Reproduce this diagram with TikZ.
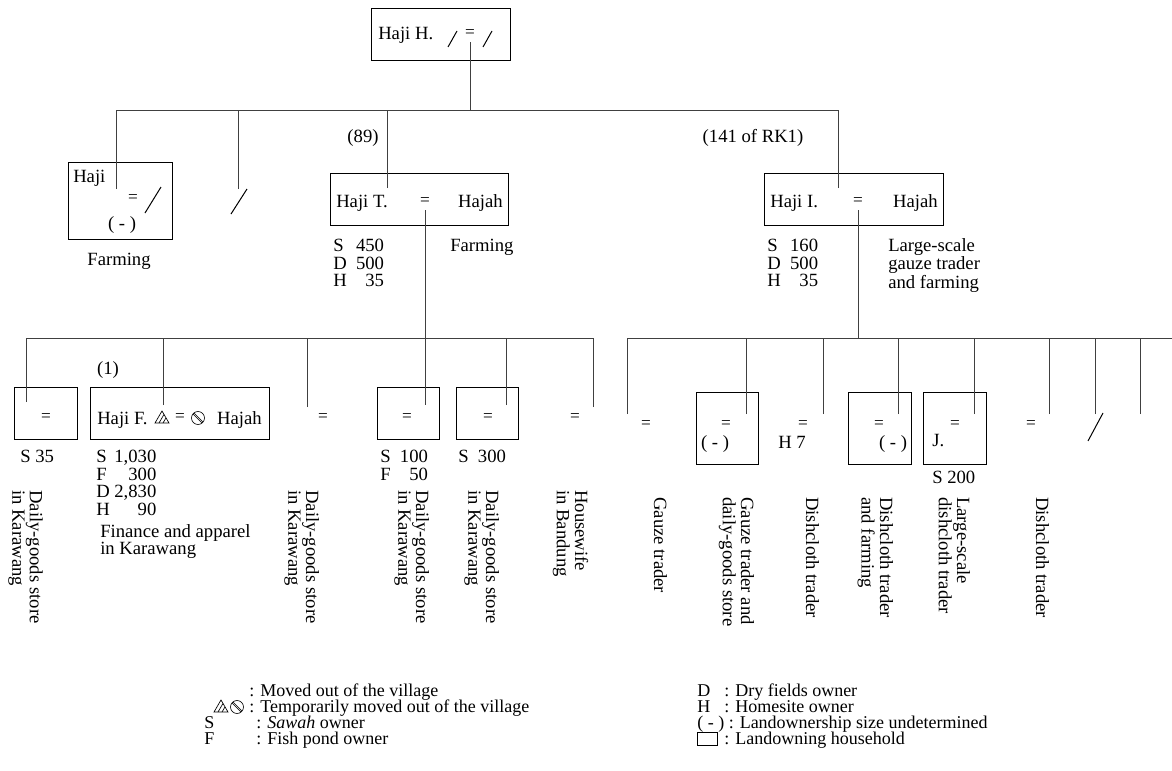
\documentclass[tikz,border=0pt]{standalone}
\usepackage{fontspec}
\setmainfont{Liberation Serif}
\usetikzlibrary{positioning}

\begin{document}
\begin{tikzpicture}[
  x=0.75pt, y=-0.75pt,
  font=\fontsize{14}{13.2}\selectfont,
  hbox/.style 2 args={draw, line width=0.75pt, inner sep=0pt,
              minimum width=#1*0.75pt, minimum height=#2*0.75pt},
  txt/.style={inner sep=0pt},
  lgd/.style={inner sep=0pt, anchor=base west},
  eq/.style={inner sep=0pt, font=\fontsize{13}{13}\selectfont},
  vtxt/.style={inner sep=0pt, rotate=-90, anchor=base west},
  lnk/.style={draw=black!75, line width=0.75pt},
  cut/.style={line width=0.75pt},
  movtri/.pic={\draw[line width=0.5pt] (-7,5) -- (7,5) -- (0,-7) -- cycle;
               \draw[line width=0.5pt] (-3,5) -- (2,-3.6) (1,5) -- (4,-0.1);},
  movcirc/.pic={\draw[line width=0.5pt] (0,0) circle (6.5);
                \draw[line width=0.5pt] (-4.9,-3.9) -- (3.9,4.9) (-3.9,-4.9) -- (4.9,3.9);}
]
\useasboundingbox (0,0) rectangle (1172,771);

\node[hbox={139}{52}] (hh) at (440.5,34) {};
\node[txt, anchor=base west] (hh-n) at (378,39) {Haji H.};
\node[eq] (hh-m) at (470,34) {=};
\draw[cut] (448,47) -- (457,31);
\draw[cut] (483,47) -- (492,31);

\coordinate (b1l) at (116,110);
\coordinate (b1r) at (838,110);
\draw[lnk] (b1l) -- (b1r);
\draw[lnk, shorten <=3pt] (hh-m.south) -- (hh-m.south |- b1l);

\node[hbox={104}{77}] (hj) at (120,200.5) {};
\node[txt, anchor=base west] (hj-n) at (73,182) {Haji};
\node[eq] (hj-m) at (133,199) {=};
\draw[cut] (145,213) -- (161,187);
\node[txt, anchor=base] (hj-u) at (122,229) {( - )};
\node[txt, anchor=base] (hj-j) at (119,265) {Farming};
\coordinate (hj-in) at (116,189);
\draw[lnk] (hj-in) -- (hj-in |- b1l);

\coordinate (x2-in) at (238,189);
\draw[lnk] (x2-in) -- (x2-in |- b1l);
\draw[cut] (231,214) -- (247,189);

\node[txt, anchor=base] (ht-r) at (363,142) {(89)};
\node[hbox={178}{52}] (ht) at (419,199) {};
\node[txt, anchor=base west] (ht-n) at (336,207) {Haji T.};
\node[eq] (ht-m) at (425,202) {=};
\node[txt, anchor=base east] (ht-w) at (503,207) {Hajah};
\node[txt, anchor=base west] (ht-d) at (333,251.5)
  {\begin{tabular}[t]{@{}l@{\ \ }r@{}}S&450\\D&500\\H&35\end{tabular}};
\node[txt, anchor=base west] (ht-j) at (450,251.5) {Farming};
\coordinate (ht-in) at (387,188);
\draw[lnk] (ht-in) -- (ht-in |- b1l);

\node[txt, anchor=base] (hi-r) at (753,142) {(141 of RK1)};
\node[hbox={179}{52}] (hi) at (853.5,199) {};
\node[txt, anchor=base west] (hi-n) at (770,207) {Haji I.};
\node[eq] (hi-m) at (858,202) {=};
\node[txt, anchor=base east] (hi-w) at (938,207) {Hajah};
\node[txt, anchor=base west] (hi-d) at (767,251.5)
  {\begin{tabular}[t]{@{}l@{\ \ }r@{}}S&160\\D&500\\H&35\end{tabular}};
\node[txt, anchor=base west] (hi-j) at (888,251.5)
  {\begin{tabular}[t]{@{}l@{}}Large-scale\\gauze trader\\and farming\end{tabular}};
\coordinate (hi-in) at (838,188);
\draw[lnk] (hi-in) -- (hi-in |- b1l);

\coordinate (b2l) at (26,338);
\coordinate (b2m) at (593,338);
\draw[lnk] (b2l) -- (b2m);

\node[hbox={63}{52}] (c1) at (45.5,413) {};
\node[eq] (c1-m) at (46,418) {=};
\node[txt, anchor=base west] (c1-d) at (20,462.5) {S 35};
\node[vtxt] (c1-j) at (30,490)
  {\begin{tabular}[t]{@{}l@{}}Daily-goods store\\in Karawang\end{tabular}};
\coordinate (c1-in) at (26,402);
\draw[lnk] (c1-in) -- (c1-in |- b2l);

\node[txt, anchor=base] (c2-r) at (108,374) {(1)};
\node[hbox={179}{52}] (c2) at (179.5,413) {};
\node[txt, anchor=base west] (c2-n) at (97,424.5) {Haji F.};
\pic at (162,418) {movtri};
\node[eq] (c2-m) at (180,418) {=};
\pic at (198,418) {movcirc};
\node[txt, anchor=base east] (c2-w) at (262,424.5) {Hajah};
\node[txt, anchor=base west] (c2-d) at (96,462.5)
  {\begin{tabular}[t]{@{}l@{\ }r@{}}S&1,030\\F&300\\D&2,830\\H&90\end{tabular}};
\node[txt, anchor=base west] (c2-j) at (100,537)
  {\begin{tabular}[t]{@{}l@{}}Finance and apparel\\in Karawang\end{tabular}};
\coordinate (c2-in) at (163,405);
\draw[lnk] (c2-in) -- (c2-in |- b2l);

\node[eq] (c3-m) at (323,418) {=};
\node[vtxt] (c3-j) at (306,490)
  {\begin{tabular}[t]{@{}l@{}}Daily-goods store\\in Karawang\end{tabular}};
\coordinate (c3-in) at (307,407);
\draw[lnk] (c3-in) -- (c3-in |- b2l);

\node[hbox={62}{52}] (c4) at (408,413) {};
\node[eq] (c4-m) at (407,418) {=};
\node[txt, anchor=base west] (c4-d) at (380,462.5)
  {\begin{tabular}[t]{@{}l@{\ \ }r@{}}S&100\\F&50\end{tabular}};
\node[vtxt] (c4-j) at (416,490)
  {\begin{tabular}[t]{@{}l@{}}Daily-goods store\\in Karawang\end{tabular}};
\coordinate (c4-in) at (425,405);
\draw[lnk, shorten <=3pt] (ht-m.south) -- (c4-in);

\node[hbox={62}{52}] (c5) at (487,413) {};
\node[eq] (c5-m) at (488,418) {=};
\node[txt, anchor=base west] (c5-d) at (458,462.5) {S\ \ 300};
\node[vtxt] (c5-j) at (486,490)
  {\begin{tabular}[t]{@{}l@{}}Daily-goods store\\in Karawang\end{tabular}};
\coordinate (c5-in) at (506,405);
\draw[lnk] (c5-in) -- (c5-in |- b2l);

\node[eq] (c6-m) at (575,418) {=};
\node[vtxt] (c6-j) at (575,490)
  {\begin{tabular}[t]{@{}l@{}}Housewife\\in Bandung\end{tabular}};
\coordinate (c6-in) at (593,407);
\draw[lnk] (c6-in) -- (c6-in |- b2l);

\coordinate (b2r) at (627,338);
\coordinate (b2e) at (1172,338);
\draw[lnk] (b2r) -- (b2e);
\draw[lnk, shorten <=3pt] (hi-m.south) -- (hi-m.south |- b2r);

\node[eq] (d1-m) at (646,425) {=};
\node[vtxt] (d1-j) at (654,497) {Gauze trader};
\coordinate (d1-in) at (627,414);
\draw[lnk] (d1-in) -- (d1-in |- b2r);

\node[hbox={62}{72}] (d2) at (727,428) {};
\node[eq] (d2-m) at (726,425) {=};
\node[txt, anchor=base] (d2-u) at (715,448) {( - )};
\node[vtxt] (d2-j) at (741,497)
  {\begin{tabular}[t]{@{}l@{}}Gauze trader and\\daily-goods store\end{tabular}};
\coordinate (d2-in) at (746,414);
\draw[lnk] (d2-in) -- (d2-in |- b2r);

\node[eq] (d3-m) at (803,425) {=};
\node[txt, anchor=base west] (d3-d) at (778,448) {H 7};
\node[vtxt] (d3-j) at (806,497) {Dishcloth trader};
\coordinate (d3-in) at (823,414);
\draw[lnk] (d3-in) -- (d3-in |- b2r);

\node[hbox={63}{72}] (d4) at (879.5,428) {};
\node[eq] (d4-m) at (879,425) {=};
\node[txt, anchor=base] (d4-u) at (893,448) {( - )};
\node[vtxt] (d4-j) at (880,497)
  {\begin{tabular}[t]{@{}l@{}}Dishcloth trader\\and farming\end{tabular}};
\coordinate (d4-in) at (898,414);
\draw[lnk] (d4-in) -- (d4-in |- b2r);

\node[hbox={63}{72}] (d5) at (954.5,428) {};
\node[eq] (d5-m) at (955,425) {=};
\node[txt, anchor=base west] (d5-n) at (932,446) {J.};
\node[txt, anchor=base west] (d5-d) at (932,483) {S 200};
\node[vtxt] (d5-j) at (957,497)
  {\begin{tabular}[t]{@{}l@{}}Large-scale\\dishcloth trader\end{tabular}};
\coordinate (d5-in) at (974,414);
\draw[lnk] (d5-in) -- (d5-in |- b2r);

\node[eq] (d6-m) at (1031,425) {=};
\node[vtxt] (d6-j) at (1036,497) {Dishcloth trader};
\coordinate (d6-in) at (1049,414);
\draw[lnk] (d6-in) -- (d6-in |- b2r);

\draw[cut] (1088,441) -- (1103,413);
\coordinate (d7-in) at (1095,414);
\draw[lnk] (d7-in) -- (d7-in |- b2r);

\coordinate (d8-in) at (1140,414);
\draw[lnk] (d8-in) -- (d8-in |- b2r);

\begin{scope}[font=\fontsize{13.5}{12}\selectfont]
\node[lgd] (lg1) at (249,696) {: Moved out of the village};
\pic at (221,707) {movtri};
\pic at (237,707) {movcirc};
\node[lgd] (lg2) at (249,712) {: Temporarily moved out of the village};
\node[lgd] (lg3k) at (204,728) {S};
\node[lgd] (lg3) at (256,728) {: \textit{Sawah} owner};
\node[lgd] (lg4k) at (204,744) {F};
\node[lgd] (lg4) at (256,744) {: Fish pond owner};

\node[lgd] (lg5k) at (697,696) {D};
\node[lgd] (lg5) at (724,696) {: Dry fields owner};
\node[lgd] (lg6k) at (697,712) {H};
\node[lgd] (lg6) at (724,712) {: Homesite owner};
\node[lgd] (lg7) at (697,728) {( - ) : Landownership size undetermined};
\node[hbox={20}{13}] (lg8k) at (707,738.5) {};
\node[lgd] (lg8) at (724,744) {: Landowning household};
\end{scope}
\end{tikzpicture}
\end{document}
